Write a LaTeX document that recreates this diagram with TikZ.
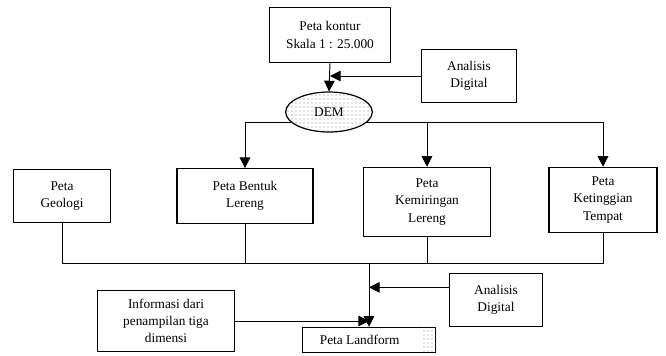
\documentclass[tikz,border=0pt]{standalone}
\usepackage{fontspec}
\setmainfont{Liberation Serif}
\usepackage{tikz}
\usetikzlibrary{shapes.geometric}
\usetikzlibrary{arrows.meta}
\usetikzlibrary{patterns}

\tikzset{
kotak/.style = {draw, line width = 0.9pt, align = center, inner sep = 1pt,
  font = \fontsize{10}{13}\selectfont},
panah/.style = {line width = 0.7pt, -{Triangle[length = 8pt, width = 8pt]}},
garis/.style = {line width = 0.7pt}
}

\begin{document}
\begin{tikzpicture}[x = 0.75pt, y = -0.75pt]
\useasboundingbox (0, 0) rectangle (666, 355);

\node[kotak, minimum width = 91pt, minimum height = 41pt] (kontur) at (330, 35)
  {Peta kontur\\Skala 1 : 25.000};
\node[kotak, minimum width = 71pt, minimum height = 40pt] (digitalA) at (469, 76)
  {Analisis\\Digital};
\node[draw, ellipse, line width = 0.9pt, pattern = dots, pattern color = gray,
  minimum width = 65pt, minimum height = 30pt, font = \fontsize{10}{13}\selectfont]
  (dem) at (329, 112) {};
\node[font = \fontsize{10}{13}\selectfont] at (dem) {DEM};

\node[kotak, minimum width = 73pt, minimum height = 40pt] (geologi) at (62, 196)
  {Peta\\Geologi};
\node[kotak, minimum width = 102pt, minimum height = 41pt] (bentuk) at (245, 196)
  {Peta Bentuk\\Lereng};
\node[kotak, minimum width = 95pt, minimum height = 52pt] (kemiringan) at (427, 202)
  {Peta\\Kemiringan\\Lereng};
\node[kotak, minimum width = 81pt, minimum height = 49pt] (ketinggian) at (603, 200)
  {Peta\\Ketinggian\\Tempat};

\node[kotak, minimum width = 103pt, minimum height = 46pt] (informasi) at (166, 321)
  {Informasi dari\\penampilan tiga\\dimensi};
\node[kotak, minimum width = 70pt, minimum height = 40pt] (digitalB) at (496, 300)
  {Analisis\\Digital};
\node[kotak, minimum width = 100pt, minimum height = 19pt] (landform) at (369, 340)
  {Peta Landform\hspace{14pt}};
\fill[pattern = dots, pattern color = gray]
  ([xshift = -11pt, yshift = -0.5pt]landform.north east)
  rectangle ([yshift = 0.5pt]landform.south east);

% dari kontur dan analisis ke DEM
\draw[panah] (kontur.south) -- (dem.north);
\draw[panah] (digitalA.west) -- (digitalA.west -| kontur.south);

% cabang dari DEM
\draw[panah] (dem.195) -| (bentuk.north);
\draw[panah] (dem.345) -| (ketinggian.north);
\draw[panah] (dem.345 -| kemiringan.north) -- (kemiringan.north);

% gabungan ke peta landform
\coordinate (gabung) at (0, 263);
\draw[garis] (geologi.south) -- (geologi.south |- gabung)
  -- (ketinggian.south |- gabung) -- (ketinggian.south);
\draw[garis] (bentuk.south) -- (bentuk.south |- gabung);
\draw[garis] (kemiringan.south) -- (kemiringan.south |- gabung);
\draw[panah] (landform.north |- gabung) -- (landform.north);
\draw[panah] (informasi.east) -- (informasi.east -| landform.north);
\draw[panah] (digitalB.165) -- (digitalB.165 -| landform.north);
\end{tikzpicture}
\end{document}
